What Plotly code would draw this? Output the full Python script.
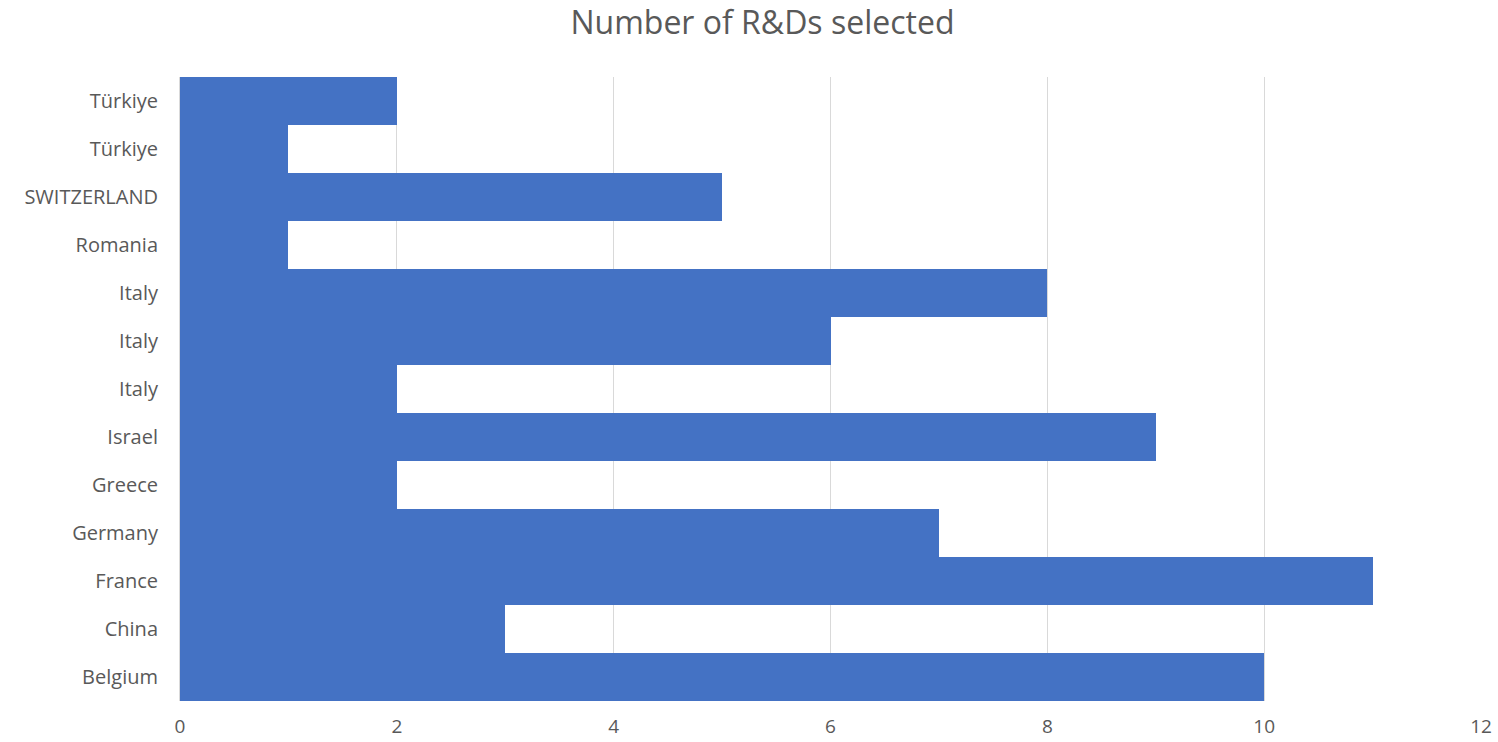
import plotly.graph_objects as go

# Countries listed bottom-to-top, with their R&D counts
countries = ["Belgium", "China", "France", "Germany", "Greece", "Israel",
             "Italy", "Italy", "Italy", "Romania", "SWITZERLAND", "Türkiye", "Türkiye"]
selected = [10, 3, 11, 7, 2, 9, 2, 6, 8, 1, 5, 1, 2]
x_ticks = [0, 2, 4, 6, 8, 10, 12]

positions = list(range(len(countries)))

fig = go.Figure(
    go.Bar(
        x=selected,
        y=positions,
        orientation="h",
        marker=dict(color="#4472C4", line=dict(width=0)),
        hoverinfo="x",
    )
)

font_family = "Open Sans, DejaVu Sans, sans-serif"

fig.update_layout(
    width=1498,
    height=742,
    margin=dict(l=180, r=17, t=77, b=41),
    paper_bgcolor="white",
    plot_bgcolor="white",
    bargap=0,
    showlegend=False,
    title=dict(
        text="Number of R&Ds selected",
        x=0.509,
        xanchor="center",
        y=0.985,
        yanchor="top",
        font=dict(family=font_family, size=32, color="#595959"),
    ),
    xaxis=dict(
        range=[0, 12],
        tickvals=x_ticks,
        ticktext=[str(v) for v in x_ticks],
        showgrid=True,
        gridcolor="#d9d9d9",
        gridwidth=1,
        zeroline=False,
        showline=False,
        ticks="",
        automargin=False,
        tickfont=dict(family=font_family, size=19, color="#595959"),
        ticklabelstandoff=12,
    ),
    yaxis=dict(
        range=[-0.5, len(countries) - 0.5],
        tickvals=positions,
        ticktext=countries,
        showgrid=False,
        zeroline=False,
        showline=True,
        linecolor="#d9d9d9",
        linewidth=1,
        ticks="",
        automargin=False,
        tickfont=dict(family=font_family, size=20, color="#595959"),
        ticklabelstandoff=17,
    ),
)

fig.write_html("out.html")
